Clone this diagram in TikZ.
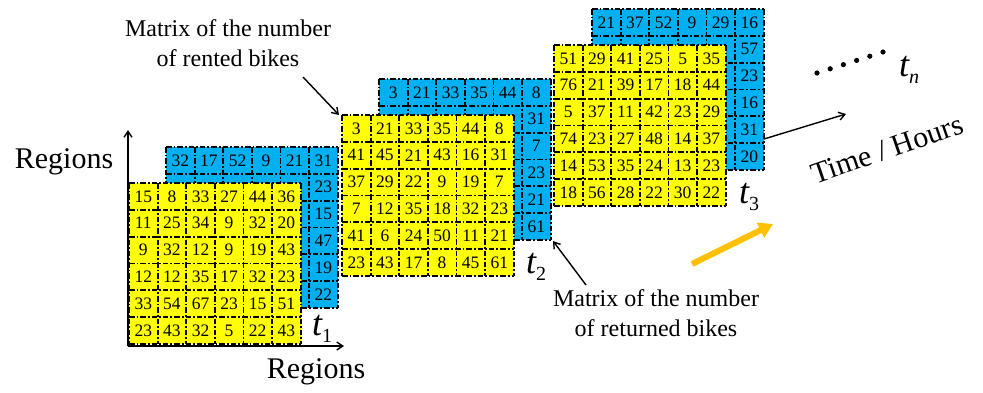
\documentclass[tikz,border=0pt]{standalone}
\usepackage{fontspec}
\setmainfont{Liberation Serif}
\usetikzlibrary{arrows.meta}
\definecolor{myyellow}{RGB}{255,255,0}
\definecolor{myblue}{RGB}{0,176,240}
\definecolor{myorange}{RGB}{255,192,0}
\newcommand\cw{28.6}
\newcommand\ch{26.8}
\tikzset{
  gridline/.style={line width=1.8pt, dash pattern=on 5.5pt off 2pt on 1.8pt off 2pt},
  num/.style={inner sep=0pt, font=\fontsize{17.5}{20}\selectfont},
  lbl/.style={inner sep=0pt, font=\fontsize{30}{36}\selectfont},
  note/.style={inner sep=0pt, align=center, font=\fontsize{24}{30}\selectfont},
  tlbl/.style={inner sep=0pt, anchor=base west, font=\fontsize{36}{40}\selectfont\itshape},
  pointer/.style={line width=1.4pt, -{Straight Barb[length=6pt,width=8pt]}},
}
% #1 x0, #2 y0, #3 colour
\newcommand\matgrid[3]{%
  \fill[#3] (#1,#2) rectangle ++({6*\cw},{6*\ch});
  \foreach \i in {0,...,6} {
    \draw[gridline] ({#1+\i*\cw},#2) -- ++(0,{6*\ch});
    \draw[gridline] (#1,{#2+\i*\ch}) -- ++({6*\cw},0);
  }%
}
% #1 x0, #2 y0, #3 name, #4 rows
\newcommand\matnums[4]{%
  \foreach \row [count=\r] in {#4} {
    \foreach \v [count=\c] in \row {
      \node[num] (#3-\r-\c) at ({#1+(\c-0.5)*\cw},{#2+(\r-0.5)*\ch}) {\v};
    }
  }%
}
% blue: top row (columns 1-5) and right column (rows 1-6)
\newcommand\bluenums[5]{%
  \foreach \v [count=\c] in {#4} {
    \node[num] (#3-1-\c) at ({#1+(\c-0.5)*\cw},{#2+0.5*\ch}) {\v};
  }
  \foreach \v [count=\r] in {#5} {
    \node[num] (#3-\r-6) at ({#1+5.5*\cw},{#2+(\r-0.5)*\ch}) {\v};
  }%
}
\newcommand\tsub[2]{t\raisebox{-7pt}{\fontsize{20}{20}\selectfont #2}}
\begin{document}
\begin{tikzpicture}[x=1pt,y=-1pt]
\useasboundingbox (0,0) rectangle (983,392);
% matrix 1
\matgrid{166}{147}{myblue}
\bluenums{166}{147}{b1}{32,17,52,9,21}{31,23,15,47,19,22}
\matgrid{129}{183}{myyellow}
\matnums{129}{183}{y1}{{15,8,33,27,44,36},{11,25,34,9,32,20},{9,32,12,9,19,43},{12,12,35,17,32,23},{33,54,67,23,15,51},{23,43,32,5,22,43}}
% matrix 2
\matgrid{379}{79}{myblue}
\bluenums{379}{79}{b2}{3,21,33,35,44}{8,31,7,23,21,61}
\matgrid{342}{115}{myyellow}
\matnums{342}{115}{y2}{{3,21,33,35,44,8},{41,45,21,43,16,31},{37,29,22,9,19,7},{7,12,35,18,32,23},{41,6,24,50,11,21},{23,43,17,8,45,61}}
% matrix 3
\matgrid{592}{9}{myblue}
\bluenums{592}{9}{b3}{21,37,52,9,29}{16,57,23,16,31,20}
\matgrid{554}{45}{myyellow}
\matnums{554}{45}{y3}{{51,29,41,25,5,35},{76,21,39,17,18,44},{5,37,11,42,23,29},{74,23,27,48,14,37},{14,53,35,24,13,23},{18,56,28,22,30,22}}
% axes
\coordinate (O) at (128,346);
\coordinate (Ytop) at (128,130);
\coordinate (Xend) at (344,346);
\draw[pointer] (O) -- (Ytop);
\draw[pointer] (O) -- (Xend);
\node[lbl] (regy) at (64,162) {Regions};
\node[lbl] (regx) at (316,372) {Regions};
% time labels
\node[tlbl] (t1) at (312,335) {\tsub{t}{\upshape 1}};
\node[tlbl] (t2) at (526,273) {\tsub{t}{\upshape 2}};
\node[tlbl] (t3) at (739,203) {\tsub{t}{\upshape 3}};
\node[tlbl] (tn) at (899,76) {\tsub{t}{n}};
% dots
\foreach \k in {0,...,5} {
  \fill ({817+\k*13.2},{73-\k*4.2}) circle (2.6pt);
}
% notes
\node[note] (rent) at (228,43) {Matrix of the number\\of rented bikes};
\node[note] (ret) at (656,313) {Matrix of the number\\of returned bikes};
\coordinate (rentS) at (303,77);
\coordinate (rentE) at (339,115);
\draw[pointer] (rentS) -- (rentE);
\coordinate (retS) at (586,285);
\coordinate (retE) at (553,241);
\draw[pointer] (retS) -- (retE);
% time axis
\coordinate (timeS) at (764,139);
\coordinate (timeE) at (846,114);
\draw[pointer] (timeS) -- (timeE);
\node[lbl, rotate=19] (time) at (887,149) {Time / Hours};
% orange arrow
\coordinate (oS) at (692,264);
\coordinate (oE) at (773,224);
\draw[myorange, line width=6pt, -{Triangle[length=14pt,width=16pt]}] (oS) -- (oE);
\end{tikzpicture}
\end{document}
